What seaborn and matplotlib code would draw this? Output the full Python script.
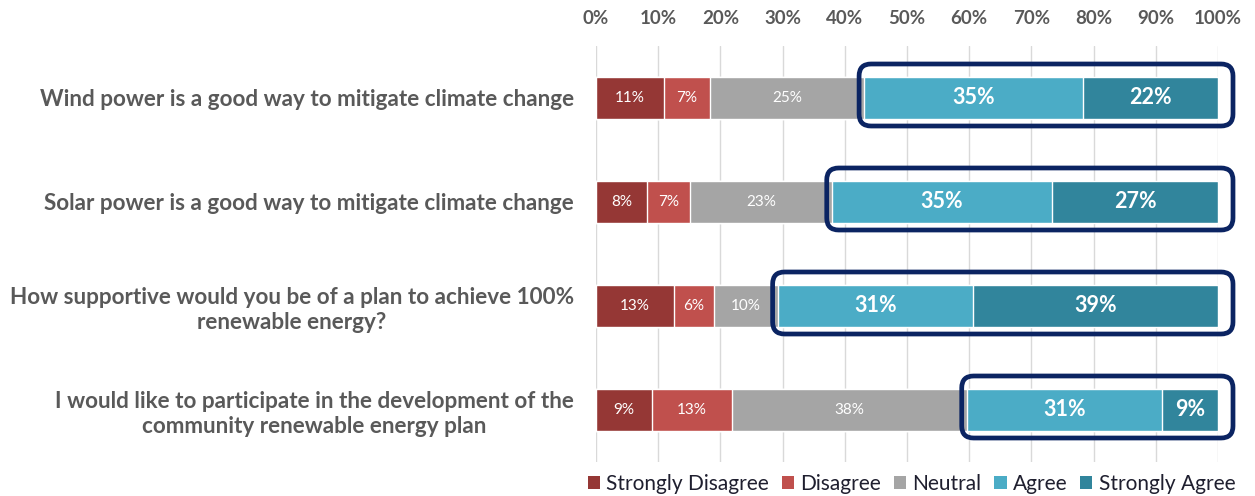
import matplotlib
matplotlib.use("Agg")
import matplotlib.pyplot as plt
from matplotlib.patches import FancyBboxPatch, Patch
from matplotlib.transforms import IdentityTransform
import numpy as np
import pandas as pd
import seaborn as sns

# ---- data ----
questions = [
    "Wind power is a good way to mitigate climate change",
    "Solar power is a good way to mitigate climate change",
    "How supportive would you be of a plan to achieve 100%\nrenewable energy?",
    "I would like to participate in the development of the\ncommunity renewable energy plan",
]
series_names = ["Strongly Disagree", "Disagree", "Neutral", "Agree", "Strongly Agree"]
strongly_disagree = [10.9, 8.2, 12.6, 9.0]
disagree = [7.4, 6.9, 6.3, 12.9]
neutral = [24.8, 22.8, 10.3, 37.7]
agree = [35.2, 35.4, 31.4, 31.4]
strongly_agree = [21.7, 26.7, 39.4, 9.0]
x_ticks = [0, 10, 20, 30, 40, 50, 60, 70, 80, 90, 100]
x_tick_labels = [f"{t}%" for t in x_ticks]

colors = ["#953735", "#C0504D", "#A5A5A5", "#4BACC6", "#31859C"]

sns.set_theme(style="white")
plt.rcParams["font.family"] = ["Lato", "DejaVu Sans"]

series = [strongly_disagree, disagree, neutral, agree, strongly_agree]
vals = np.array(series)            # 5 x 4
cum = np.cumsum(vals, axis=0)      # cumulative right edges
starts = cum - vals

fig = plt.figure(figsize=(12.55, 4.96), dpi=100)
W, H = 1255, 496
ax = fig.add_axes([596 / W, 1 - 462 / H, (1218 - 596) / W, (462 - 46) / H])

bar_w = 0.404
# draw from largest cumulative down so the stack shows
for i in range(4, -1, -1):
    df = pd.DataFrame({"q": questions, "v": cum[i]})
    sns.barplot(data=df, x="v", y="q", orient="h", color=colors[i],
                saturation=1, width=bar_w, ax=ax, zorder=2)

ax.set_xlim(0, 100)
ax.set_ylim(3.5, -0.5)
ax.set_xticks(x_ticks)
ax.set_xticklabels(x_tick_labels)
ax.xaxis.tick_top()
ax.grid(axis="x", color="#D9D9D9", linewidth=1, zorder=0)
ax.set_axisbelow(True)
for s in ax.spines.values():
    s.set_visible(False)
ax.set_xlabel("")
ax.set_ylabel("")
ax.tick_params(axis="x", length=0, pad=14, labelsize=13.5, labelcolor="#595959")
ax.tick_params(axis="y", length=0, pad=16, labelsize=16.2, labelcolor="#595959")
for lab in ax.get_xticklabels():
    lab.set_fontweight("bold")
for lab in ax.get_yticklabels():
    lab.set_fontweight("bold")
    lab.set_multialignment("center")
    lab.set_linespacing(1.25)

# segment labels
for i in range(5):
    for j in range(4):
        xc = starts[i, j] + vals[i, j] / 2
        big = i >= 3
        ax.text(xc, j, f"{round(vals[i, j])}%", ha="center", va="center",
                color="white", fontsize=15.5 if big else 11,
                fontweight="bold" if big else "normal", zorder=4)

# rounded boxes around Agree + Strongly Agree
fig.canvas.draw()
for j in range(4):
    x0, _ = ax.transData.transform((starts[3, j], j))
    x1, _ = ax.transData.transform((100, j))
    _, ytop = ax.transData.transform((0, j - bar_w / 2))
    _, ybot = ax.transData.transform((0, j + bar_w / 2))
    left = x0 - 5
    right = x1 + 15
    top = ytop + 13
    bottom = ybot - 7
    box = FancyBboxPatch((left, bottom), right - left, top - bottom,
                         boxstyle="round,pad=0,rounding_size=12",
                         linewidth=3.4, edgecolor="#0B2462", facecolor="none",
                         transform=IdentityTransform(), zorder=5)
    fig.patches.append(box)

handles = [Patch(facecolor=c, edgecolor="none", label=n) for c, n in zip(colors, series_names)]
fig.legend(handles=handles, loc="center", bbox_to_anchor=(911.5 / W, 1 - 484 / H),
           ncol=5, frameon=False, fontsize=15, handlelength=0.6, handleheight=0.6,
           handletextpad=0.3, columnspacing=0.6, labelcolor="#1F1F2F")

fig.savefig("out.png", dpi=100)
